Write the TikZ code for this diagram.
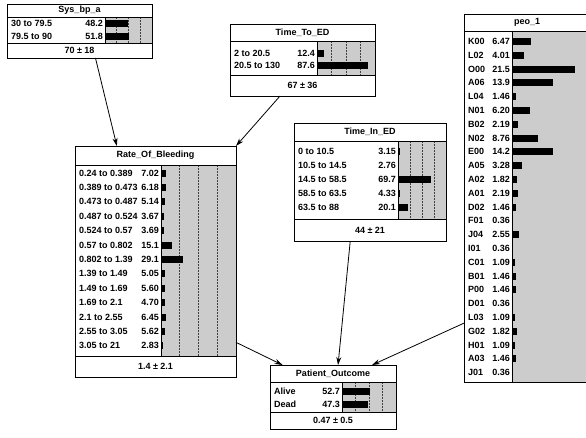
\documentclass[tikz,border=0pt]{standalone}
\usepackage{fontspec}
\setmainfont{Liberation Sans}
\usetikzlibrary{arrows.meta,calc}
\tikzset{
  bnbox/.style={draw=black,line width=0.9pt,inner sep=0,outer sep=0},
  rowtext/.style={font=\fontsize{9}{10}\selectfont\bfseries,inner sep=0},
  titletext/.style={font=\fontsize{9}{10}\selectfont\bfseries,inner sep=0},
  barbg/.style={fill=black!20},
  gridline/.style={line width=0.6pt,dash pattern=on 1.5pt off 1.5pt,black!75},
  link/.style={-{Stealth[length=8pt,width=5pt]},line width=0.8pt},
}
% #1 name, #2 width, #3 height, #4 title row, #5 mean row, #6 bar x, #7 title, #8 mean
\newcommand\bnnode[8]{
  \fill[white] (0,0) rectangle (#2,#3);
  \fill[barbg] (#6,#4) rectangle (#2,#3-#5);
  \foreach \f in {0.25,0.5,0.75}
    \draw[gridline] ({#6+\f*(#2-#6)},#4) -- ({#6+\f*(#2-#6)},#3-#5);
  \draw[line width=0.9pt] (0,#4) -- (#2,#4) (0,#3-#5) -- (#2,#3-#5) (#6,#4) -- (#6,#3-#5);
  \node[bnbox,anchor=north west,minimum width=#2pt,minimum height=#3pt] (#1) at (0,0) {};
  \node[titletext] (#1-title) at (#2/2,#4/2) {#7};
  \node[titletext] (#1-mean) at (#2/2,#3-#5/2) {#8};}
% #1 name, #2 first baseline, #3 bar x, #4 px per percent, #5 states
\newcommand\bnrows[5]{
  \foreach \lab/\val [count=\i from 0] in {#5}{
    \node[rowtext,anchor=base west] (#1-l\i) at (4,#2+\i*\rowsep) {\lab};
    \node[rowtext,anchor=base east] (#1-v\i) at (#3-2,#2+\i*\rowsep) {\val};
    \fill ({#3},{#2+\i*\rowsep-6.5}) rectangle ++({\val*#4},7);
  }}

\begin{document}
\begin{tikzpicture}[x=1pt,y=-1pt]
\fill[white] (0,0) rectangle (586,437);
\useasboundingbox (0,0) rectangle (586,437);
\clip (0,0) rectangle (586,437);

\begin{scope}[shift={(7,4)}]
  \bnnode{sysbp}{145}{54}{13}{15}{98}{Sys\_bp\_a}{70 ± 18}
  \def\rowsep{13}
  \bnrows{sysbp}{22.5}{98}{0.47}{30 to 79.5/48.2, 79.5 to 90/51.8}
\end{scope}

\begin{scope}[shift={(230,24)}]
  \bnnode{ttoed}{145}{72}{17}{21}{87}{Time\_To\_ED}{67 ± 36}
  \def\rowsep{12}
  \bnrows{ttoed}{32.5}{87}{0.58}{2 to 20.5/12.4, 20.5 to 130/87.6}
\end{scope}

\begin{scope}[shift={(75,146)}]
  \bnnode{rob}{161}{231}{19}{21}{86}{Rate\_Of\_Bleeding}{1.4 ± 2.1}
  \def\rowsep{14.4}
  \bnrows{rob}{30}{86}{0.75}{0.24 to 0.389/7.02, 0.389 to 0.473/6.18,
    0.473 to 0.487/5.14, 0.487 to 0.524/3.67, 0.524 to 0.57/3.69,
    0.57 to 0.802/15.1, 0.802 to 1.39/29.1, 1.39 to 1.49/5.05,
    1.49 to 1.69/5.60, 1.69 to 2.1/4.70, 2.1 to 2.55/6.45,
    2.55 to 3.05/5.62, 3.05 to 21/2.83}
\end{scope}

\begin{scope}[shift={(294,123)}]
  \bnnode{tined}{152}{118}{18}{22}{104}{Time\_In\_ED}{44 ± 21}
  \def\rowsep{14}
  \bnrows{tined}{31.5}{104}{0.48}{0 to 10.5/3.15, 10.5 to 14.5/2.76,
    14.5 to 58.5/69.7, 58.5 to 63.5/4.33, 63.5 to 88/20.1}
\end{scope}

\begin{scope}[shift={(270,365)}]
  \bnnode{pout}{126}{64}{17}{17}{72}{Patient\_Outcome}{0.47 ± 0.5}
  \def\rowsep{13}
  \bnrows{pout}{29.5}{72}{0.54}{Alive/52.7, Dead/47.3}
\end{scope}

\begin{scope}[shift={(464,14)},gridline/.style={draw=none}]
  \bnnode{peo}{126}{368}{17}{0}{48}{peo\_1}{}
  \def\rowsep{13.8}
  \bnrows{peo}{30.5}{48}{2.92}{K00/6.47, L02/4.01, O00/21.5, A06/13.9,
    L04/1.46, N01/6.20, B02/2.19, N02/8.76, E00/14.2, A05/3.28, A02/1.82,
    A01/2.19, D02/1.46, F01/0.36, J04/2.55, I01/0.36, C01/1.09, B01/1.46,
    P00/1.46, D01/0.36, L03/1.09, G02/1.82, H01/1.09, A03/1.46, J01/0.36}
\end{scope}

% links
\draw[link] ($(sysbp.south west)!0.61!(sysbp.south east)$) -- ($(rob.north west)!0.26!(rob.north east)$);
\draw[link] ($(ttoed.south west)!0.345!(ttoed.south east)$) -- (rob.north east);
\draw[link] ($(rob.north east)!0.85!(rob.south east)$) -- ($(pout.north west)!0.1!(pout.north east)$);
\draw[link] ($(tined.south west)!0.37!(tined.south east)$) -- ($(pout.north west)!0.54!(pout.north east)$);
\draw[link] ($(peo.north west)!0.84!(peo.south west)$) -- ($(pout.north west)!0.81!(pout.north east)$);
\end{tikzpicture}
\end{document}
